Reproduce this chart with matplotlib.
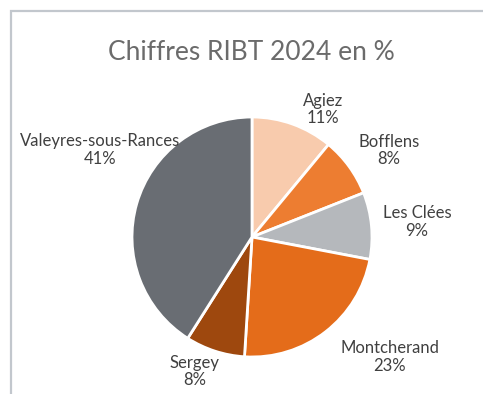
import matplotlib.pyplot as plt
from matplotlib.patches import Rectangle

# Chiffres RIBT 2024, part de chaque commune en %
communes = ["Agiez", "Bofflens", "Les Clées", "Montcherand", "Sergey", "Valeyres-sous-Rances"]
parts = [11, 8, 9, 23, 8, 41]
couleurs = ["#F8CBAD", "#ED7D31", "#B5B8BC", "#E46C1A", "#9E480E", "#696D73"]

# emplacement des étiquettes (unités du rayon)
pos_etiquettes = [(0.59, 1.06), (1.14, 0.72), (1.375, 0.125),
                  (1.15, -1.0), (-0.475, -1.12), (-1.27, 0.725)]

plt.rcParams['font.family'] = ['Lato', 'DejaVu Sans']

W, H = 483, 394
fig = plt.figure(figsize=(W / 100, H / 100), dpi=100)

# cadre du graphique
fig.patches.append(Rectangle((10.5 / W, -0.1), 1.2, (H - 11.5) / H + 0.1,
                             transform=fig.transFigure, fill=False,
                             edgecolor="#C2C7CD", linewidth=1.6))

cx, cy, r = 252, H - 237, 120
ax = fig.add_axes([(cx - r) / W, (cy - r) / H, 2 * r / W, 2 * r / H])
ax.pie(parts, colors=couleurs, startangle=90, counterclock=False,
       wedgeprops=dict(edgecolor="white", linewidth=2))
ax.set_xlim(-1, 1)
ax.set_ylim(-1, 1)
ax.set_aspect("equal")
ax.axis("off")

for nom, p, (x, y) in zip(communes, parts, pos_etiquettes):
    ax.text(x, y, f"{nom}\n{p}%", ha="center", va="center", fontsize=12,
            color="#404040", linespacing=1.1, clip_on=False)

fig.text(251 / W, 1 - 52 / H, "Chiffres RIBT 2024 en %", ha="center", va="center",
         fontsize=19, color="#6B6B6B", fontweight="normal")

fig.savefig("out.png", dpi=100)
